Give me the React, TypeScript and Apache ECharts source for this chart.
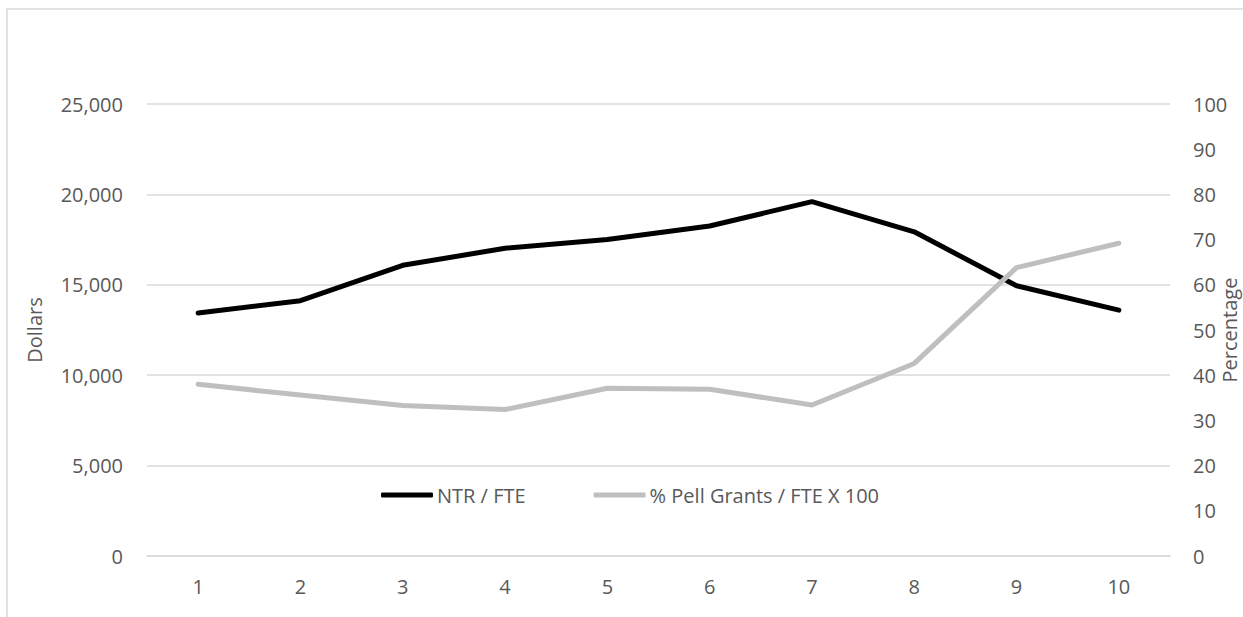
import React, { useEffect, useRef } from "react";
import * as echarts from "echarts";

const categories = ["1", "2", "3", "4", "5", "6", "7", "8", "9", "10"];
const ntrPerFte = [13440, 14120, 16080, 17020, 17500, 18250, 19600, 17930, 14950, 13600];
const pellPct = [38.0, 35.6, 33.3, 32.4, 37.1, 36.9, 33.4, 42.6, 63.8, 69.2];
const leftTicks = { min: 0, max: 25000, interval: 5000 };
const rightTicks = { min: 0, max: 100, interval: 10 };
const leftTitle = "Dollars";
const rightTitle = "Percentage";

const FONT = "'Open Sans', 'Noto Sans', sans-serif";
const LABEL = "#595959";
const GRID = "#d9d9d9";

export default function App() {
  const ref = useRef<HTMLDivElement>(null);
  useEffect(() => {
    if (!ref.current) return;
    const chart = echarts.init(ref.current, null, { renderer: "svg" });
    chart.setOption({
      animation: false,
      backgroundColor: "#ffffff",
      textStyle: { fontFamily: FONT },
      graphic: [
        {
          type: "rect",
          shape: { x: 7, y: 9, width: 1245, height: 615 },
          style: { fill: "none", stroke: GRID, lineWidth: 1.5 },
          silent: true,
        },
        {
          type: "text",
          x: 1229,
          y: 330,
          rotation: Math.PI / 2,
          style: {
            text: rightTitle,
            fill: LABEL,
            fontSize: 20,
            fontFamily: FONT,
            align: "center",
            verticalAlign: "middle",
          },
          silent: true,
        },
      ],
      grid: {
        left: 147,
        right: 73,
        top: 104,
        bottom: 61,
        containLabel: false,
        outerBoundsMode: "none",
      },
      legend: {
        left: 381,
        top: 485,
        padding: 0,
        itemWidth: 52,
        itemHeight: 5,
        itemGap: 68,
        icon: "roundRect",
        textStyle: { color: LABEL, fontSize: 20, fontFamily: FONT, padding: [0, 0, 0, -1] },
        data: ["NTR / FTE", "% Pell Grants / FTE X 100"],
      },
      xAxis: {
        type: "category",
        data: categories,
        boundaryGap: true,
        axisLine: { show: true, lineStyle: { color: GRID, width: 1.5 } },
        axisTick: { show: false },
        axisLabel: { color: LABEL, fontSize: 20, fontFamily: FONT, margin: 20 },
      },
      yAxis: [
        {
          type: "value",
          ...leftTicks,
          name: leftTitle,
          nameLocation: "middle",
          nameRotate: 90,
          nameGap: 103,
          nameTextStyle: { color: LABEL, fontSize: 20, fontFamily: FONT },
          axisLine: { show: false },
          axisTick: { show: false },
          splitLine: { lineStyle: { color: GRID, width: 1.5 } },
          axisLabel: {
            color: LABEL,
            fontSize: 20,
            fontFamily: FONT,
            margin: 24,
            formatter: (v: number) => v.toLocaleString("en-US"),
          },
        },
        {
          type: "value",
          ...rightTicks,
          position: "right",
          axisLine: { show: false },
          axisTick: { show: false },
          splitLine: { show: false },
          axisLabel: { color: LABEL, fontSize: 20, fontFamily: FONT, margin: 23 },
        },
      ],
      series: [
        {
          name: "NTR / FTE",
          type: "line",
          yAxisIndex: 0,
          data: ntrPerFte,
          symbol: "none",
          itemStyle: { color: "#000000" },
          lineStyle: { color: "#000000", width: 5, cap: "round", join: "round" },
        },
        {
          name: "% Pell Grants / FTE X 100",
          type: "line",
          yAxisIndex: 1,
          data: pellPct,
          symbol: "none",
          itemStyle: { color: "#bfbfbf" },
          lineStyle: { color: "#bfbfbf", width: 5, cap: "round", join: "round" },
        },
      ],
    });
    return () => chart.dispose();
  }, []);
  return (
    <div
      ref={ref}
      style={{ position: "fixed", left: 0, top: 0, width: 1243, height: 617 }}
    />
  );
}
